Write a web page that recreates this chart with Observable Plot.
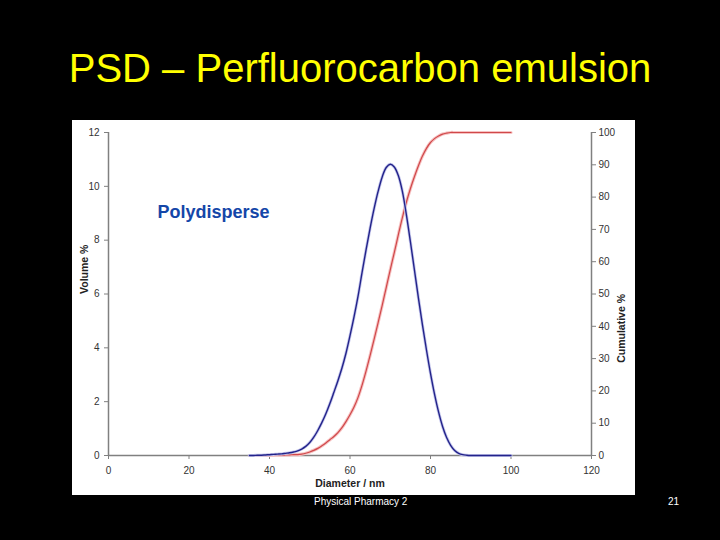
<!DOCTYPE html>
<html>
<head>
<meta charset="utf-8">
<script src="https://cdn.jsdelivr.net/npm/d3@7"></script>
<script src="https://cdn.jsdelivr.net/npm/@observablehq/plot@0.6"></script>
<style>
  html, body { margin: 0; padding: 0; background: #000; }
  #slide { position: relative; width: 720px; height: 540px; background: #000; overflow: hidden; font-family: "Liberation Sans", Arial, sans-serif; }
  #title { position: absolute; left: 0; top: 42px; width: 720px; text-align: center; color: #ffff00; font-size: 40px; line-height: 52px; }
  #chart { position: absolute; left: 72px; top: 120px; }
  .foot { position: absolute; top: 496px; color: #fff; font-size: 10px; line-height: 12px; }
</style>
</head>
<body>
<div id="slide">
  <div id="title">PSD – Perfluorocarbon emulsion</div>
  <div id="chart"></div>
  <div class="foot" style="left:314px">Physical Pharmacy 2</div>
  <div class="foot" style="left:668px">21</div>
</div>
<script>
const diameter = [35,36,37,38,39,40,41,42,43,44,45,46,47,48,49,50,51,52,53,54,55,56,57,58,59,60,61,62,63,64,65,66,67,68,69,70,71,72,73,74,75,76,77,78,79,80,81,82,83,84,85,86,87,88,89,90,91,92,93,94,95,96,97,98,99,100];
const volumePct = [0,0,0.01,0.01,0.02,0.03,0.04,0.05,0.06,0.08,0.10,0.13,0.17,0.24,0.34,0.48,0.68,0.93,1.22,1.55,1.93,2.35,2.78,3.25,3.80,4.45,5.15,5.92,6.80,7.65,8.45,9.18,9.82,10.35,10.70,10.82,10.72,10.40,9.82,8.95,7.95,6.90,5.85,4.85,3.92,3.05,2.28,1.62,1.08,0.67,0.38,0.19,0.08,0.03,0.01,0,0,0,0,0,0,0,0,0,0,0];
const cumulativePct = [0,0,0,0,0,0.05,0.05,0.1,0.1,0.15,0.2,0.25,0.3,0.45,0.7,1.1,1.6,2.2,3.0,3.9,4.9,5.9,7.1,8.6,10.5,12.6,15.0,18.0,21.8,26.2,31.0,36.0,41.2,46.5,52.0,57.5,62.8,68.3,73.6,78.4,82.6,86.3,89.7,92.7,95.1,96.9,98.1,98.9,99.5,99.8,100,100,100,100,100,100,100,100,100,100,100,100,100,100,100,100];
const xTicks = [0,20,40,60,80,100,120];
const leftTicks = [0,2,4,6,8,10,12];
const rightTicks = [0,10,20,30,40,50,60,70,80,90,100];
const xLabel = "Diameter / nm";
const leftLabel = "Volume %";
const rightLabel = "Cumulative %";
const note = "Polydisperse";

const volMax = 12, cumMax = 100;
const toLeft = c => c * volMax / cumMax;
const rows = diameter.map((d, i) => ({d, v: volumePct[i], c: toLeft(cumulativePct[i])}));

const chart = Plot.plot({
  width: 563,
  height: 375,
  marginLeft: 36,
  marginRight: 44,
  marginTop: 12,
  marginBottom: 40,
  style: {background: "#fff", fontFamily: "'Liberation Sans', Arial, sans-serif", fontSize: "10px", color: "#333"},
  x: {domain: [0, 120]},
  y: {domain: [0, 12]},
  marks: [
    Plot.axisX(xTicks, {tickSize: 4, tickPadding: 7, label: null, stroke: "#808080", fill: "#333"}),
    Plot.axisY(leftTicks, {anchor: "left", tickSize: 4, tickPadding: 5, label: null, stroke: "#808080", fill: "#333"}),
    Plot.axisY(rightTicks.map(toLeft), {anchor: "right", tickSize: 4, tickPadding: 3, label: null, stroke: "#808080", fill: "#333", tickFormat: d => Math.round(d * cumMax / volMax)}),
    Plot.ruleY([0], {stroke: "#808080", strokeWidth: 1.5}),
    Plot.ruleX([0], {stroke: "#808080", strokeWidth: 1.5}),
    Plot.ruleX([120], {stroke: "#808080", strokeWidth: 1.5}),
    Plot.line(rows, {x: "d", y: "c", stroke: "#f6c2c2", strokeWidth: 3.2, curve: "catmull-rom"}),
    Plot.line(rows, {x: "d", y: "c", stroke: "#d0484a", strokeWidth: 1.2, curve: "catmull-rom"}),
    Plot.line(rows, {x: "d", y: "v", stroke: "#c6c8ec", strokeWidth: 3, curve: "catmull-rom"}),
    Plot.line(rows, {x: "d", y: "v", stroke: "#23238a", strokeWidth: 1.4, curve: "catmull-rom"}),
    Plot.text([note], {frameAnchor: "top-left", lineAnchor: "middle", dx: 49, dy: 80, textAnchor: "start", fill: "#1446a8", fontWeight: "bold", fontSize: 18}),
    Plot.text([xLabel], {frameAnchor: "bottom", dy: 31, fill: "#222", fontWeight: "bold", fontSize: 10.5}),
    Plot.text([leftLabel], {frameAnchor: "left", dx: -24, rotate: -90, fill: "#222", fontWeight: "bold", fontSize: 10.5}),
    Plot.text([rightLabel], {frameAnchor: "right", dx: 30, rotate: -90, fill: "#222", fontWeight: "bold", fontSize: 10.5})
  ]
});
document.getElementById("chart").appendChild(chart);
</script>
</body>
</html>
